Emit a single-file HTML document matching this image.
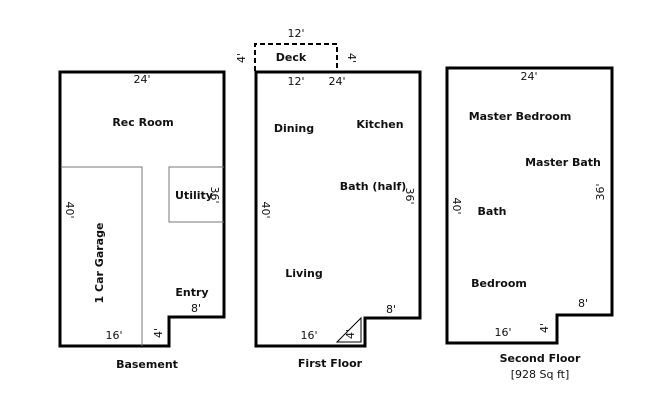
<!DOCTYPE html>
<html><head><meta charset="utf-8"><style>
html,body{margin:0;padding:0;background:#fff;}
svg{display:block;}
text{font-family:"DejaVu Sans","Liberation Sans",sans-serif;font-size:11px;fill:#111;}
.b{font-weight:bold;}
</style></head><body>
<svg width="650" height="403" viewBox="0 0 650 403" xmlns="http://www.w3.org/2000/svg">
<g fill="none" stroke="#000" stroke-width="3">
<path d="M60,72 H224 V317 H169 V346 H60 Z"/>
<path d="M256,72 H420 V318 H365 V346 H256 Z"/>
<path d="M447,68 H612 V315 H557 V343 H447 Z"/>
</g>
<g fill="none" stroke="#000" stroke-width="2" stroke-dasharray="5,3">
<path d="M255,71 V44 H337 V71"/>
</g>
<g fill="none" stroke="#777" stroke-width="1">
<path d="M61,167 H142 V346"/>
<path d="M224,167 H169 V222 H224"/>
</g>
<path d="M337,342 L361,318 V342 Z" fill="none" stroke="#000" stroke-width="1"/>
<text x="142" y="83" text-anchor="middle">24'</text>
<text class="b" x="143" y="126" text-anchor="middle">Rec Room</text>
<text class="b" x="175" y="199">Utility</text>
<text transform="translate(211,195) rotate(90)" text-anchor="middle">36'</text>
<text transform="translate(66,210) rotate(90)" text-anchor="middle">40'</text>
<text class="b" transform="translate(103,263) rotate(-90)" text-anchor="middle">1 Car Garage</text>
<text class="b" x="192" y="296" text-anchor="middle">Entry</text>
<text x="196" y="312" text-anchor="middle">8'</text>
<text x="114" y="339" text-anchor="middle">16'</text>
<text transform="translate(162,333) rotate(-90)" text-anchor="middle">4'</text>
<text class="b" x="147" y="368" text-anchor="middle">Basement</text>

<text x="296" y="37" text-anchor="middle">12'</text>
<text transform="translate(245,58) rotate(-90)" text-anchor="middle">4'</text>
<text transform="translate(348,58) rotate(90)" text-anchor="middle">4'</text>
<text class="b" x="291" y="61" text-anchor="middle">Deck</text>
<text x="296" y="85" text-anchor="middle">12'</text>
<text x="337" y="85" text-anchor="middle">24'</text>
<text class="b" x="294" y="132" text-anchor="middle">Dining</text>
<text class="b" x="380" y="128" text-anchor="middle">Kitchen</text>
<text class="b" x="373" y="190" text-anchor="middle">Bath (half)</text>
<text transform="translate(406,196) rotate(90)" text-anchor="middle">36'</text>
<text transform="translate(262,210) rotate(90)" text-anchor="middle">40'</text>
<text class="b" x="304" y="277" text-anchor="middle">Living</text>
<text x="391" y="313" text-anchor="middle">8'</text>
<text x="309" y="339" text-anchor="middle">16'</text>
<text transform="translate(354,334) rotate(-90)" text-anchor="middle" font-size="10">4'</text>
<text class="b" x="330" y="367" text-anchor="middle">First Floor</text>

<text x="529" y="80" text-anchor="middle">24'</text>
<text class="b" x="520" y="120" text-anchor="middle">Master Bedroom</text>
<text class="b" x="563" y="166" text-anchor="middle">Master Bath</text>
<text transform="translate(604,192) rotate(-90)" text-anchor="middle">36'</text>
<text transform="translate(453,206) rotate(90)" text-anchor="middle">40'</text>
<text class="b" x="492" y="215" text-anchor="middle">Bath</text>
<text class="b" x="499" y="287" text-anchor="middle">Bedroom</text>
<text x="583" y="307" text-anchor="middle">8'</text>
<text x="503" y="336" text-anchor="middle">16'</text>
<text transform="translate(548,328) rotate(-90)" text-anchor="middle">4'</text>
<text class="b" x="540" y="362" text-anchor="middle">Second Floor</text>
<text x="540" y="378" text-anchor="middle">[928 Sq ft]</text>
</svg>
</body></html>
